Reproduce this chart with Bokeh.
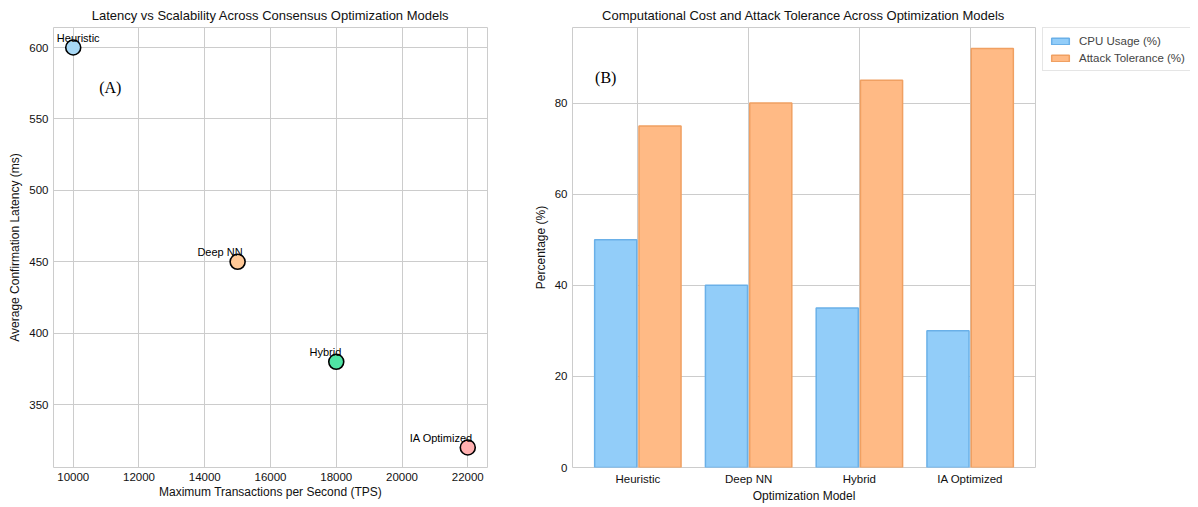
from bokeh.plotting import figure
from bokeh.models import ColumnDataSource, FixedTicker, Label, LabelSet, Legend, LegendItem
from bokeh.layouts import row
from bokeh.embed import file_html
from bokeh.resources import INLINE
from bokeh.transform import dodge
from bokeh.core.properties import value

# ---- data ----
models = ["Heuristic", "Deep NN", "Hybrid", "IA Optimized"]
tps = [10000, 15000, 18000, 22000]
latency = [600, 450, 380, 320]
point_colors = ["#a8d8f5", "#ffc896", "#50e3a4", "#ffb0b0"]

cpu_usage = [50, 40, 35, 30]
attack_tolerance = [75, 80, 85, 92]

x_ticks = [10000, 12000, 14000, 16000, 18000, 20000, 22000]
y_ticks_left = [350, 400, 450, 500, 550, 600]
y_ticks_right = [0, 20, 40, 60, 80]

FONT = "Liberation Sans"
GRID = "#cccccc"
CPU_FILL, CPU_LINE = "#92cdf9", "#6ab0e8"
ATT_FILL, ATT_LINE = "#ffba85", "#f0a062"


def style(p):
    p.title.text_font = FONT
    p.title.text_font_size = "13px"
    p.title.text_font_style = "normal"
    p.title.text_color = "#111111"
    p.title.align = "center"
    p.outline_line_color = GRID
    p.outline_line_width = 1
    for ax in (p.xaxis[0], p.yaxis[0]):
        ax.axis_line_color = None
        ax.major_tick_line_color = None
        ax.minor_tick_line_color = None
        ax.major_tick_out = 0
        ax.major_tick_in = 0
        ax.minor_tick_out = 0
        ax.minor_tick_in = 0
        ax.major_label_text_font = FONT
        ax.major_label_text_font_size = "11.5px"
        ax.major_label_text_color = "#111111"
        ax.axis_label_text_font = FONT
        ax.axis_label_text_font_size = "12px"
        ax.axis_label_text_font_style = "normal"
        ax.axis_label_text_color = "#111111"
    p.xaxis.major_label_standoff = 5
    p.xaxis.axis_label_standoff = 1
    p.yaxis.major_label_standoff = 5
    p.yaxis.axis_label_standoff = 4
    p.xgrid.grid_line_color = GRID
    p.ygrid.grid_line_color = GRID
    p.xgrid.grid_line_width = 1
    p.ygrid.grid_line_width = 1


# ---- left: scatter ----
p1 = figure(frame_width=434, frame_height=440, x_range=(9400, 22600), y_range=(306, 614),
            output_backend="svg", toolbar_location=None,
            title="Latency vs Scalability Across Consensus Optimization Models",
            min_border_left=53, min_border_right=30, min_border_top=20, min_border_bottom=30)
style(p1)
p1.xaxis.axis_label = "Maximum Transactions per Second (TPS)"
p1.yaxis.axis_label = "Average Confirmation Latency (ms)"
p1.xaxis.ticker = FixedTicker(ticks=x_ticks)
p1.yaxis.ticker = FixedTicker(ticks=y_ticks_left)

src1 = ColumnDataSource(dict(x=tps, y=latency, c=point_colors, name=models))
p1.scatter("x", "y", source=src1, size=15, fill_color="c", line_color="black", line_width=1.6)

# first label would run past the left frame edge, so centre it over its point
src_first = ColumnDataSource(dict(x=tps[:1], y=latency[:1], name=models[:1]))
src_rest = ColumnDataSource(dict(x=tps[1:], y=latency[1:], name=models[1:]))
p1.add_layout(LabelSet(x="x", y="y", text="name", source=src_first, text_align="center",
                       text_baseline="bottom", x_offset=5, y_offset=4, text_font=value(FONT),
                       text_font_size="11px", text_color="black"))
p1.add_layout(LabelSet(x="x", y="y", text="name", source=src_rest, text_align="right",
                       text_baseline="bottom", x_offset=5, y_offset=4, text_font=value(FONT),
                       text_font_size="11px", text_color="black"))
p1.add_layout(Label(x=11127, y=572, text="(A)", text_align="center", text_baseline="middle",
                    text_font="Liberation Serif", text_font_size="16px", text_color="black"))

# ---- right: grouped bars ----
idx = list(range(len(models)))
p2 = figure(frame_width=463, frame_height=440, x_range=(-0.59, 3.59), y_range=(0, 96.6),
            output_backend="svg", toolbar_location=None,
            title="Computational Cost and Attack Tolerance Across Optimization Models",
            min_border_left=55, min_border_right=7, min_border_top=20, min_border_bottom=30)
style(p2)
p2.xaxis.axis_label = "Optimization Model"
p2.yaxis.axis_label = "Percentage (%)"
p2.xaxis.ticker = FixedTicker(ticks=idx)
p2.xaxis.major_label_overrides = {i: m for i, m in zip(idx, models)}
p2.yaxis.ticker = FixedTicker(ticks=y_ticks_right)

src2 = ColumnDataSource(dict(x=idx, cpu=cpu_usage, att=attack_tolerance))
p2.vbar(x=dodge("x", -0.2), top="cpu", width=0.38, source=src2,
        fill_color=CPU_FILL, line_color=CPU_LINE, line_width=1.5)
p2.vbar(x=dodge("x", 0.2), top="att", width=0.38, source=src2,
        fill_color=ATT_FILL, line_color=ATT_LINE, line_width=1.5)
p2.add_layout(Label(x=-0.29, y=85.7, text="(B)", text_align="center", text_baseline="middle",
                    text_font="Liberation Serif", text_font_size="16px", text_color="black"))

# ---- legend panel (outside the bar chart, on the right) ----
# the bar series are attached here only to provide legend swatches; they are
# muted with a fully transparent muted style, so nothing is drawn in this panel
p3 = figure(width=148, height=490, x_range=(10, 11), y_range=(0, 100),
            x_axis_type=None, y_axis_type=None, output_backend="svg", toolbar_location=None,
            min_border_left=0, min_border_right=0, min_border_top=22, min_border_bottom=0)
p3.outline_line_color = None
p3.grid.visible = False
s_cpu = p3.vbar(x="x", top="cpu", width=0.38, source=src2,
                fill_color=CPU_FILL, line_color=CPU_LINE, line_width=1.5, muted_alpha=0)
s_att = p3.vbar(x="x", top="att", width=0.38, source=src2,
                fill_color=ATT_FILL, line_color=ATT_LINE, line_width=1.5, muted_alpha=0)
s_cpu.muted = True
s_att.muted = True
legend = Legend(items=[LegendItem(label="CPU Usage (%)", renderers=[s_cpu], index=0),
                       LegendItem(label="Attack Tolerance (%)", renderers=[s_att], index=0)],
                location="top_left", label_text_font=FONT, label_text_font_size="11.5px",
                glyph_width=22, glyph_height=8, spacing=4, padding=6, margin=0,
                border_line_color=GRID, label_height=13, label_standoff=8,
                click_policy="none")
p3.add_layout(legend)

layout = row(p1, p2, p3)
open("out.html", "w").write(file_html(layout, INLINE))
